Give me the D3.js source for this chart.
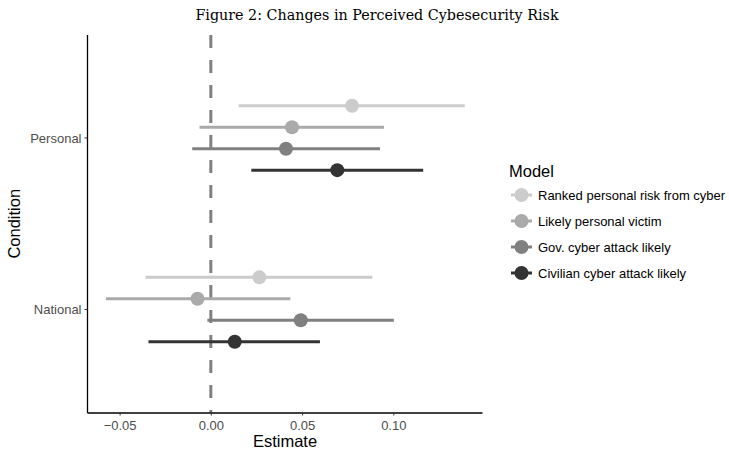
<!DOCTYPE html>
<html>
<head>
<meta charset="utf-8">
<script src="https://cdn.jsdelivr.net/npm/d3@7/dist/d3.min.js"></script>
<style>
html,body{margin:0;padding:0;background:#fff;}
svg{display:block;}
</style>
</head>
<body>
<svg id="chart" width="729" height="452"></svg>
<script>
const conditions = ["Personal", "National"];
const models = ["Ranked personal risk from cyber", "Likely personal victim", "Gov. cyber attack likely", "Civilian cyber attack likely"];
const modelColors = ["#cccccc", "#aaaaaa", "#808080", "#333333"];
// estimates per model, indexed [Personal, National]
const estimate = [
  [0.0774, 0.0266],
  [0.0445, -0.0073],
  [0.0412, 0.0493],
  [0.0693, 0.0131]
];
const lower = [
  [0.0153, -0.0358],
  [-0.0062, -0.0575],
  [-0.0102, -0.0019],
  [0.0222, -0.0342]
];
const upper = [
  [0.1392, 0.0885],
  [0.0949, 0.0436],
  [0.0927, 0.1003],
  [0.1164, 0.0598]
];
const xTicks = [-0.05, 0, 0.05, 0.10];

const svg = d3.select("#chart");
const pLeft = 87.5, pRight = 482.5, pTop = 35, pBottom = 412.5;
const sans = "Liberation Sans, Arial, sans-serif";

const x = d3.scaleLinear().domain([-0.0676, 0.1489]).range([pLeft, pRight]);
// discrete y: Personal upper, National lower, ggplot-like expansion 0.6
const yCat = d3.scaleLinear().domain([0.4, 2.6]).range([pBottom, pTop]);
const catPos = {"National": 1, "Personal": 2};
const dodge = [-3/16, -1/16, 1/16, 3/16]; // top to bottom in units (dodge width 0.5)

const data = [];
models.forEach((m, i) => {
  conditions.forEach((c, j) => {
    data.push({model: m, mi: i, cond: c, est: estimate[i][j], lo: lower[i][j], hi: upper[i][j]});
  });
});
const yPos = d => yCat(catPos[d.cond] - dodge[d.mi]);

// zero reference line
svg.append("line")
  .attr("x1", x(0)).attr("x2", x(0))
  .attr("y1", pTop).attr("y2", pBottom)
  .attr("stroke", "#808080").attr("stroke-width", 3)
  .attr("stroke-dasharray", "13 12");

const g = svg.append("g");
g.selectAll("line.err").data(data).enter().append("line")
  .attr("class", "err")
  .attr("x1", d => x(d.lo)).attr("x2", d => x(d.hi))
  .attr("y1", yPos).attr("y2", yPos)
  .attr("stroke", d => modelColors[d.mi]).attr("stroke-width", 3);
g.selectAll("circle").data(data).enter().append("circle")
  .attr("cx", d => x(d.est)).attr("cy", yPos).attr("r", 7)
  .attr("fill", d => modelColors[d.mi]);

// axes
const xAxis = svg.append("g").attr("transform", `translate(0,${pBottom})`)
  .call(d3.axisBottom(x).tickValues(xTicks).tickSize(3).tickSizeOuter(0)
    .tickFormat(d3.format(".2f")));
xAxis.select(".domain").attr("stroke", "#000").attr("stroke-width", 1.3)
  .attr("d", `M${pLeft},0.5H${pRight}`);
xAxis.selectAll(".tick line").attr("stroke", "#333");
xAxis.selectAll(".tick text").attr("fill", "#4d4d4d").attr("font-size", 13)
  .attr("font-family", sans).attr("dy", "0.9em");

const yAxisScale = d => yCat(catPos[d]);
const yAxis = svg.append("g").attr("transform", `translate(${pLeft},0)`);
yAxis.append("line").attr("x1", 0).attr("x2", 0).attr("y1", pTop).attr("y2", pBottom + 0.5)
  .attr("stroke", "#000").attr("stroke-width", 1.3);
conditions.forEach(c => {
  yAxis.append("line").attr("x1", -3).attr("x2", 0)
    .attr("y1", yAxisScale(c)).attr("y2", yAxisScale(c)).attr("stroke", "#333");
  yAxis.append("text").attr("x", -6).attr("y", yAxisScale(c)).attr("dy", "0.35em")
    .attr("text-anchor", "end").attr("fill", "#4d4d4d").attr("font-size", 13)
    .attr("font-family", sans).text(c);
});

// axis titles
svg.append("text").attr("x", (pLeft + pRight) / 2).attr("y", 447)
  .attr("text-anchor", "middle").attr("font-size", 16.5)
  .attr("font-family", sans).text("Estimate");
svg.append("text").attr("transform", `translate(20,${(pTop + pBottom) / 2}) rotate(-90)`)
  .attr("text-anchor", "middle").attr("font-size", 16.5)
  .attr("font-family", sans).text("Condition");

// title
svg.append("text").attr("x", 377).attr("y", 20)
  .attr("text-anchor", "middle").attr("font-size", 14.3)
  .attr("font-family", "DejaVu Serif, Liberation Serif, serif").text("Figure 2: Changes in Perceived Cybesecurity Risk");

// legend
const leg = svg.append("g");
leg.append("text").attr("x", 509).attr("y", 177).attr("font-size", 16.5)
  .attr("font-family", sans).text("Model");
models.forEach((m, i) => {
  const cy = 195 + i * 26;
  leg.append("line").attr("x1", 511).attr("x2", 532).attr("y1", cy).attr("y2", cy)
    .attr("stroke", modelColors[i]).attr("stroke-width", 3);
  leg.append("circle").attr("cx", 521.5).attr("cy", cy).attr("r", 7).attr("fill", modelColors[i]);
  leg.append("text").attr("x", 538).attr("y", cy).attr("dy", "0.35em").attr("font-size", 13)
    .attr("font-family", sans).attr("fill", "#000").text(m);
});
</script>
</body>
</html>
